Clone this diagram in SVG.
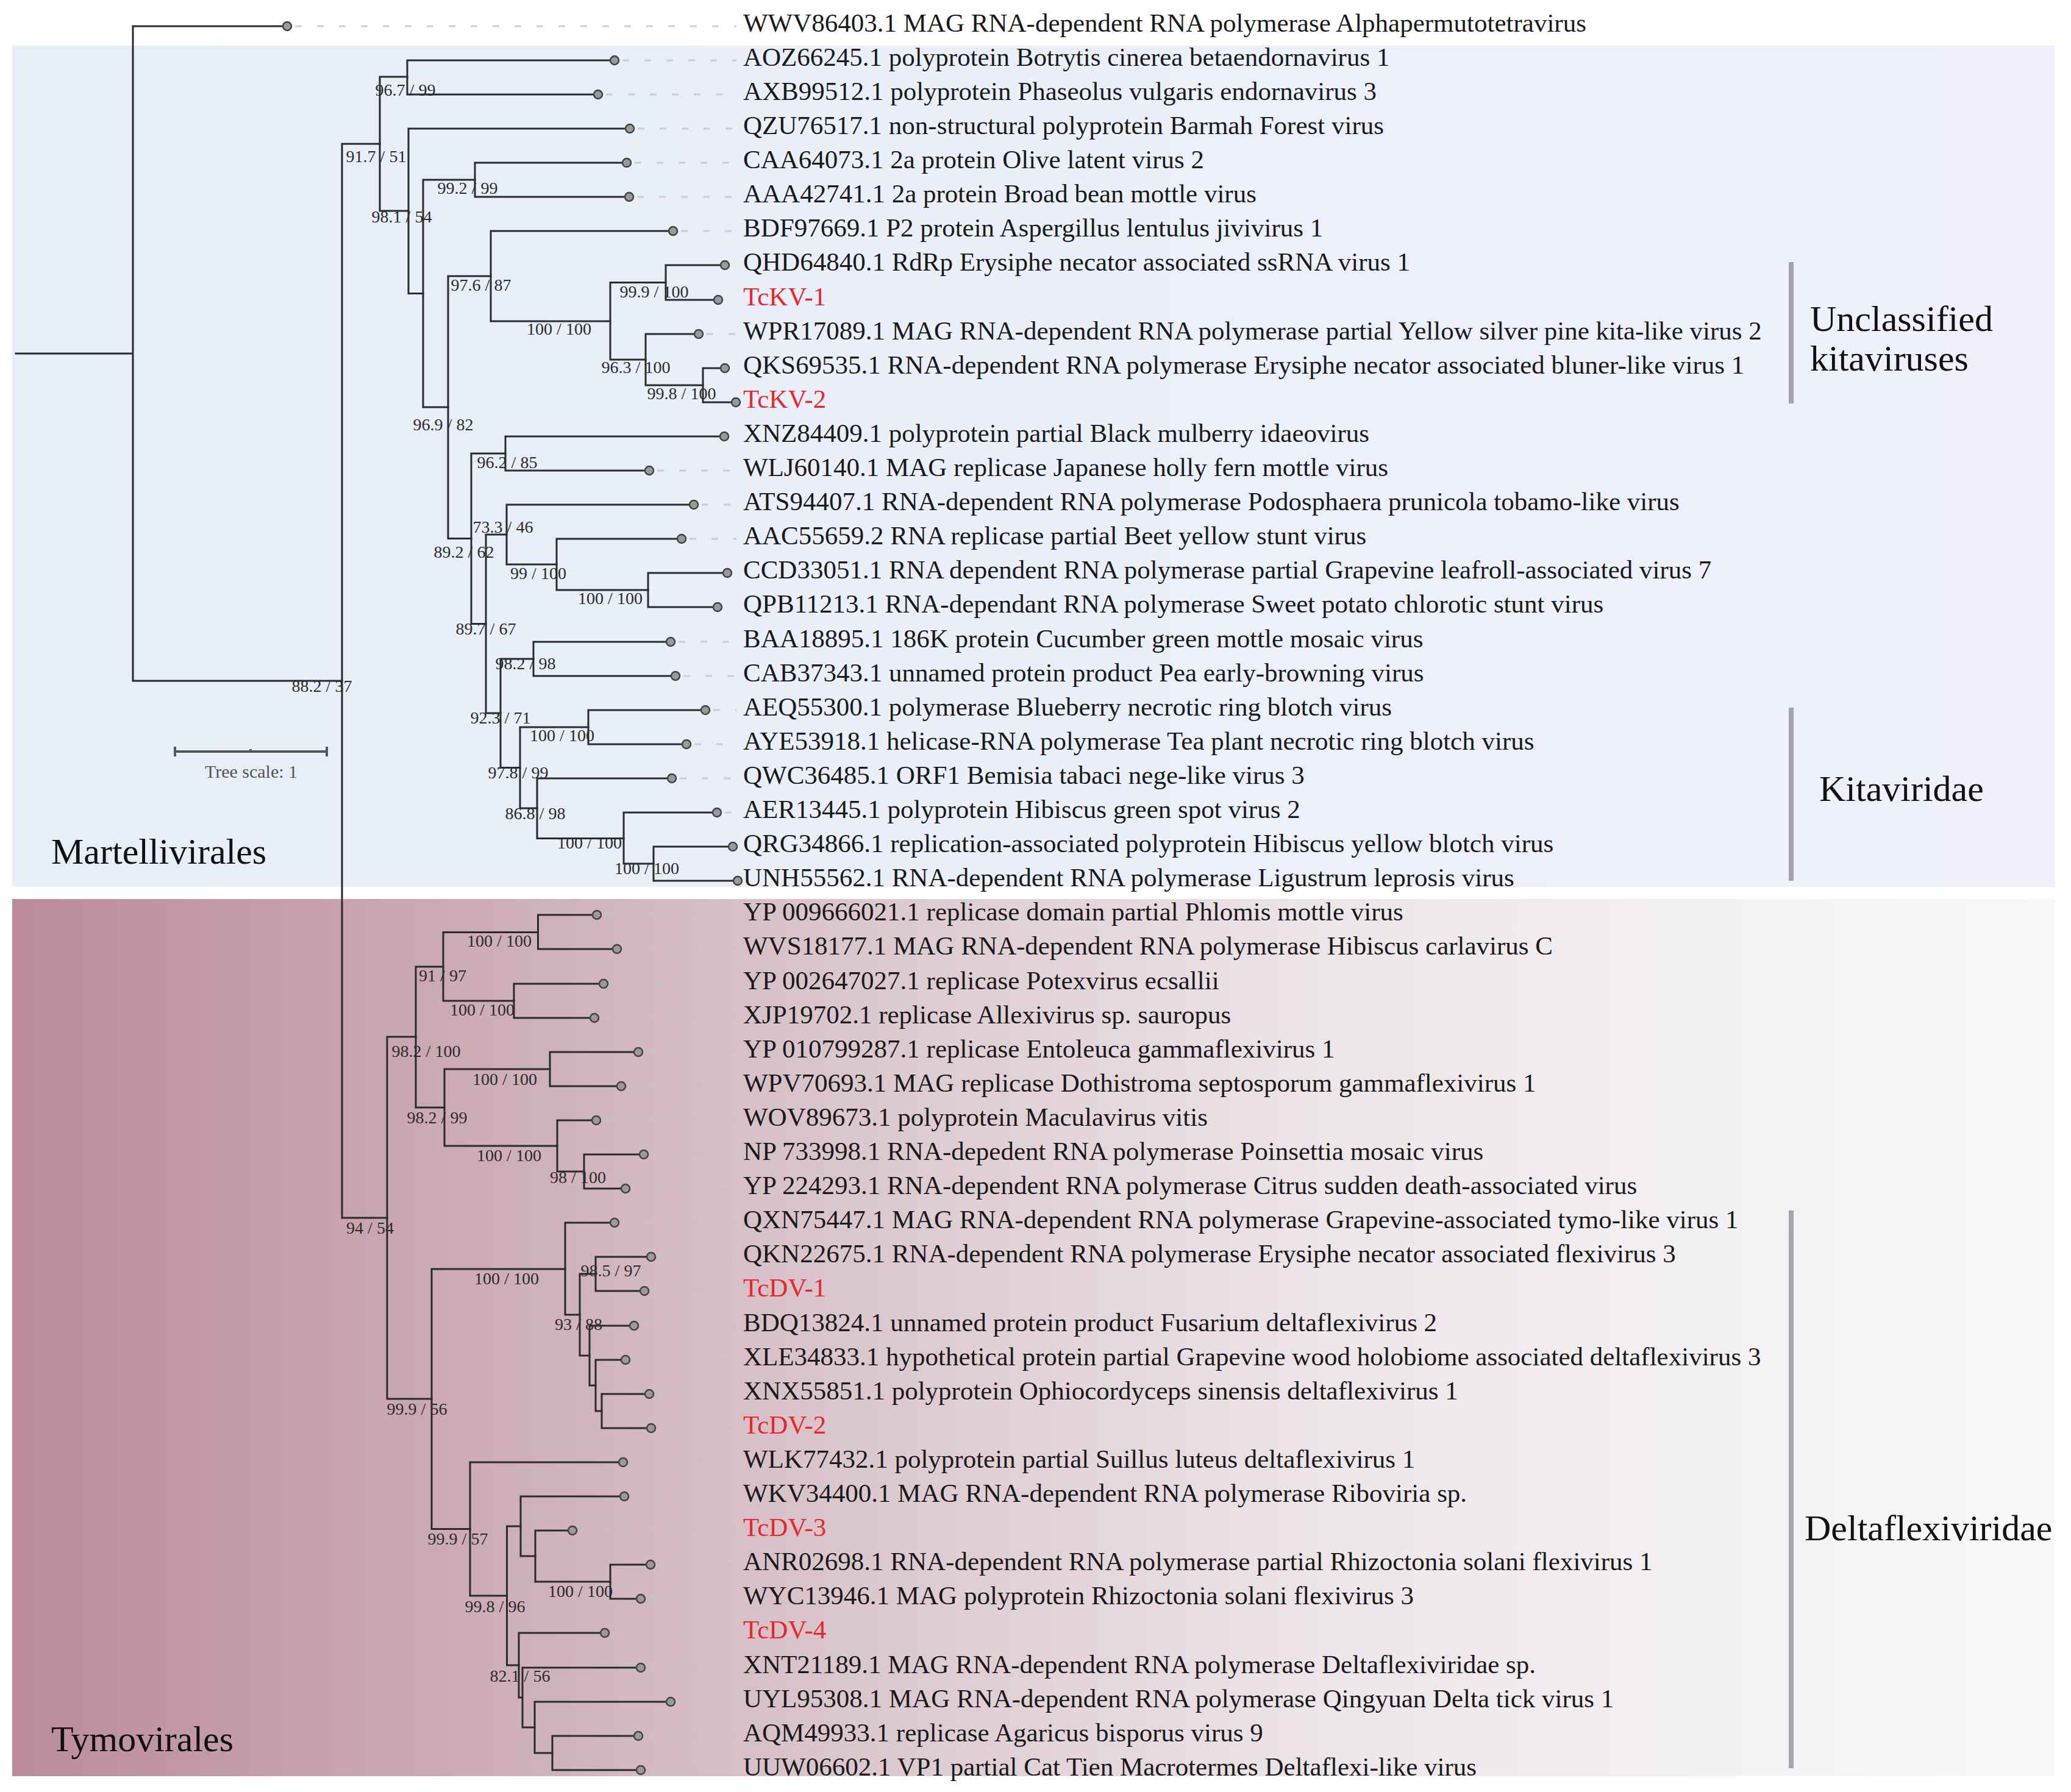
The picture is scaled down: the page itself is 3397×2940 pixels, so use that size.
<svg xmlns="http://www.w3.org/2000/svg" width="3397" height="2940" viewBox="0 0 3397 2940">
<defs>
<linearGradient id="gBlue" x1="0" y1="0" x2="1" y2="0">
<stop offset="0" stop-color="#e6eef7"/><stop offset="1" stop-color="#eff0fc"/>
</linearGradient>
<linearGradient id="gPink" x1="0" y1="0" x2="1" y2="0">
<stop offset="0" stop-color="#bb8b99"/><stop offset="0.35" stop-color="#d6bfc7"/><stop offset="0.65" stop-color="#ede6ea"/><stop offset="1" stop-color="#f8f9fb"/>
</linearGradient>
</defs>
<style>
.br{fill:none;stroke:#2b2b2b;stroke-width:3;stroke-linecap:square}
.tip{fill:#9a9a9a;stroke:#444;stroke-width:2.5}
.dash{stroke:#c4c4c8;stroke-width:3;stroke-dasharray:11 25;opacity:0.75}
.lb{font-family:"Liberation Serif","Times New Roman",serif;font-size:43px;fill:#1a1a1a}
.red{fill:#e8262b}
.sp{font-family:"Liberation Serif","Times New Roman",serif;font-size:28px;fill:#2b2b2b;text-anchor:middle}
.grp{font-family:"Liberation Serif","Times New Roman",serif;font-size:60px;fill:#111}
.bk{fill:#a4a4aa}
</style>
<rect width="3397" height="2940" fill="#ffffff"/>
<g id="bands">
<rect x="20" y="75" width="3351" height="1380" fill="url(#gBlue)"/>
<rect x="20" y="1475" width="3351" height="1439" fill="url(#gPink)"/>
</g>
<g id="group-labels">
<text class="grp" x="84" y="1417">Martellivirales</text>
<text class="grp" x="84" y="2873">Tymovirales</text>
<rect class="bk" x="2934" y="430" width="8" height="232"/>
<text class="grp" x="2969" y="543">Unclassified</text>
<text class="grp" x="2969" y="608">kitaviruses</text>
<rect class="bk" x="2934" y="1161" width="8" height="284"/>
<text class="grp" x="2984" y="1314">Kitaviridae</text>
<rect class="bk" x="2934" y="1986" width="8" height="915"/>
<text class="grp" x="2960" y="2527">Deltaflexiviridae</text>
</g>
<g id="tree-scale">
<path d="M287,1233 H536 M287,1225 V1241 M536,1225 V1241 M411,1229 V1233" stroke="#555" stroke-width="4" fill="none"/>
<text x="412" y="1276" font-family="Liberation Serif, serif" font-size="30" fill="#555" text-anchor="middle">Tree scale: 1</text>
</g>
<g id="connectors" class="br">
<path d="M26,580 H218 M218,43 V1117 M218,43 H471 M218,1117 H561"/>
<path d="M561,236 V1998 M561,236 H623 M561,1998 H635"/>
<path d="M623,126 V346 M623,126 H668 M623,346 H670"/>
<path d="M668,99 V155 M668,99 H1008 M668,155 H981"/>
<path d="M670,211 V481.5 M670,211 H1033 M670,481.5 H694"/>
<path d="M694,295 V668 M694,295 H779 M694,668 H735"/>
<path d="M779,267 V323 M779,267 H1028 M779,323 H1032"/>
<path d="M735,453 V883.5 M735,453 H805 M735,883.5 H773"/>
<path d="M805,379 V527 M805,379 H1104 M805,527 H1001"/>
<path d="M1001,463.5 V590 M1001,463.5 H1092 M1001,590 H1059"/>
<path d="M1092,435 V492 M1092,435 H1189 M1092,492 H1178"/>
<path d="M1059,548 V632 M1059,548 H1146 M1059,632 H1153"/>
<path d="M1153,604 V660 M1153,604 H1189 M1153,660 H1207"/>
<path d="M773,744 V1023.5 M773,744 H829 M773,1023.5 H797"/>
<path d="M829,716 V772 M829,716 H1188 M829,772 H1065"/>
<path d="M797,877 V1170 M797,877 H831 M797,1170 H821"/>
<path d="M831,828 V926 M831,828 H1138 M831,926 H913"/>
<path d="M913,884 V968 M913,884 H1118 M913,968 H1063"/>
<path d="M1063,940 V996 M1063,940 H1193 M1063,996 H1177"/>
<path d="M821,1081 V1259.5 M821,1081 H875 M821,1259.5 H853"/>
<path d="M875,1053 V1109 M875,1053 H1100 M875,1109 H1108"/>
<path d="M853,1193 V1326 M853,1193 H965 M853,1326 H881"/>
<path d="M965,1165 V1221 M965,1165 H1157 M965,1221 H1126"/>
<path d="M881,1277 V1375.5 M881,1277 H1102 M881,1375.5 H1023"/>
<path d="M1023,1333 V1417 M1023,1333 H1176 M1023,1417 H1072"/>
<path d="M1072,1389 V1445 M1072,1389 H1202 M1072,1445 H1210"/>
<path d="M635,1701 V2295 M635,1701 H682 M635,2295 H708"/>
<path d="M682,1586 V1817 M682,1586 H727 M682,1817 H729"/>
<path d="M727,1529.5 V1642 M727,1529.5 H882.5 M727,1642 H843"/>
<path d="M882.5,1501 V1557 M882.5,1501 H979 M882.5,1557 H1012"/>
<path d="M843,1614 V1670 M843,1614 H990 M843,1670 H975"/>
<path d="M729,1754 V1880 M729,1754 H902 M729,1880 H914"/>
<path d="M902,1726 V1782 M902,1726 H1047 M902,1782 H1019"/>
<path d="M914,1838 V1922 M914,1838 H978 M914,1922 H958"/>
<path d="M958,1894 V1950 M958,1894 H1056 M958,1950 H1026"/>
<path d="M708,2082 V2508.5 M708,2082 H927 M708,2508.5 H771"/>
<path d="M927,2006 V2157 M927,2006 H1008 M927,2157 H951"/>
<path d="M951,2090 V2224 M951,2090 H977 M951,2224 H967"/>
<path d="M977,2062 V2118 M977,2062 H1068 M977,2118 H1057"/>
<path d="M967,2175 V2273 M967,2175 H1040 M967,2273 H977"/>
<path d="M977,2231 V2315 M977,2231 H1026 M977,2315 H987"/>
<path d="M987,2287 V2343 M987,2287 H1065 M987,2343 H1068"/>
<path d="M771,2399 V2618 M771,2399 H1022 M771,2618 H831.5"/>
<path d="M831.5,2504 V2732 M831.5,2504 H854 M831.5,2732 H851"/>
<path d="M854,2455 V2553 M854,2455 H1024 M854,2553 H878"/>
<path d="M878,2511 V2595 M878,2511 H939 M878,2595 H1001"/>
<path d="M1001,2567 V2623 M1001,2567 H1067 M1001,2623 H1051"/>
<path d="M851,2679 V2785 M851,2679 H992 M851,2785 H857"/>
<path d="M857,2736 V2834 M857,2736 H1051 M857,2834 H877"/>
<path d="M877,2792 V2876 M877,2792 H1100 M877,2876 H906"/>
<path d="M906,2848 V2904 M906,2848 H1047 M906,2904 H1051"/>
</g>
<g id="support-values">
<text class="sp" x="528" y="1135">88.2 / 37</text>
<text class="sp" x="617" y="266">91.7 / 51</text>
<text class="sp" x="665" y="157">96.7 / 99</text>
<text class="sp" x="659" y="365">98.1 / 54</text>
<text class="sp" x="767" y="318">99.2 / 99</text>
<text class="sp" x="789" y="477">97.6 / 87</text>
<text class="sp" x="917" y="549">100 / 100</text>
<text class="sp" x="1073" y="488">99.9 / 100</text>
<text class="sp" x="1043" y="612">96.3 / 100</text>
<text class="sp" x="1118" y="655">99.8 / 100</text>
<text class="sp" x="727" y="706">96.9 / 82</text>
<text class="sp" x="832" y="768">96.2 / 85</text>
<text class="sp" x="825" y="874">73.3 / 46</text>
<text class="sp" x="761" y="915">89.2 / 62</text>
<text class="sp" x="883" y="950">99 / 100</text>
<text class="sp" x="1001" y="991">100 / 100</text>
<text class="sp" x="797" y="1041">89.7 / 67</text>
<text class="sp" x="862" y="1098">98.2 / 98</text>
<text class="sp" x="821" y="1187">92.3 / 71</text>
<text class="sp" x="922" y="1216">100 / 100</text>
<text class="sp" x="850" y="1277">97.8 / 99</text>
<text class="sp" x="878" y="1344">86.8 / 98</text>
<text class="sp" x="967" y="1392">100 / 100</text>
<text class="sp" x="1061" y="1434">100 / 100</text>
<text class="sp" x="819" y="1553">100 / 100</text>
<text class="sp" x="726" y="1610">91 / 97</text>
<text class="sp" x="791" y="1666">100 / 100</text>
<text class="sp" x="699" y="1734">98.2 / 100</text>
<text class="sp" x="828" y="1780">100 / 100</text>
<text class="sp" x="717" y="1843">98.2 / 99</text>
<text class="sp" x="835" y="1905">100 / 100</text>
<text class="sp" x="948" y="1941">98 / 100</text>
<text class="sp" x="607" y="2024">94 / 54</text>
<text class="sp" x="1002" y="2094">98.5 / 97</text>
<text class="sp" x="831" y="2107">100 / 100</text>
<text class="sp" x="949" y="2182">93 / 88</text>
<text class="sp" x="684" y="2321">99.9 / 56</text>
<text class="sp" x="751" y="2534">99.9 / 57</text>
<text class="sp" x="952" y="2620">100 / 100</text>
<text class="sp" x="812" y="2645">99.8 / 96</text>
<text class="sp" x="853" y="2759">82.1 / 56</text>
</g>
<g id="leaves">
<g id="leaf-WWV86403"><line class="dash" x1="484" y1="43" x2="1208" y2="43"/><circle class="tip" cx="471" cy="43" r="7"/><text class="lb" x="1219" y="52">WWV86403.1 MAG RNA-dependent RNA polymerase Alphapermutotetravirus</text></g>
<g id="leaf-AOZ66245"><line class="dash" x1="1021" y1="99" x2="1208" y2="99"/><circle class="tip" cx="1008" cy="99" r="7"/><text class="lb" x="1219" y="108">AOZ66245.1 polyprotein Botrytis cinerea betaendornavirus 1</text></g>
<g id="leaf-AXB99512"><line class="dash" x1="994" y1="155" x2="1208" y2="155"/><circle class="tip" cx="981" cy="155" r="7"/><text class="lb" x="1219" y="164">AXB99512.1 polyprotein Phaseolus vulgaris endornavirus 3</text></g>
<g id="leaf-QZU76517"><line class="dash" x1="1046" y1="211" x2="1208" y2="211"/><circle class="tip" cx="1033" cy="211" r="7"/><text class="lb" x="1219" y="220">QZU76517.1 non-structural polyprotein Barmah Forest virus</text></g>
<g id="leaf-CAA64073"><line class="dash" x1="1041" y1="267" x2="1208" y2="267"/><circle class="tip" cx="1028" cy="267" r="7"/><text class="lb" x="1219" y="276">CAA64073.1 2a protein Olive latent virus 2</text></g>
<g id="leaf-AAA42741"><line class="dash" x1="1045" y1="323" x2="1208" y2="323"/><circle class="tip" cx="1032" cy="323" r="7"/><text class="lb" x="1219" y="332">AAA42741.1 2a protein Broad bean mottle virus</text></g>
<g id="leaf-BDF97669"><line class="dash" x1="1117" y1="379" x2="1208" y2="379"/><circle class="tip" cx="1104" cy="379" r="7"/><text class="lb" x="1219" y="388">BDF97669.1 P2 protein Aspergillus lentulus jivivirus 1</text></g>
<g id="leaf-QHD64840"><circle class="tip" cx="1189" cy="435" r="7"/><text class="lb" x="1219" y="444">QHD64840.1 RdRp Erysiphe necator associated ssRNA virus 1</text></g>
<g id="leaf-TcKV-1"><circle class="tip" cx="1178" cy="492" r="7"/><text class="lb red" x="1219" y="501">TcKV-1</text></g>
<g id="leaf-WPR17089"><line class="dash" x1="1159" y1="548" x2="1208" y2="548"/><circle class="tip" cx="1146" cy="548" r="7"/><text class="lb" x="1219" y="557">WPR17089.1 MAG RNA-dependent RNA polymerase partial Yellow silver pine kita-like virus 2</text></g>
<g id="leaf-QKS69535"><circle class="tip" cx="1189" cy="604" r="7"/><text class="lb" x="1219" y="613">QKS69535.1 RNA-dependent RNA polymerase Erysiphe necator associated bluner-like virus 1</text></g>
<g id="leaf-TcKV-2"><circle class="tip" cx="1207" cy="660" r="7"/><text class="lb red" x="1219" y="669">TcKV-2</text></g>
<g id="leaf-XNZ84409"><circle class="tip" cx="1188" cy="716" r="7"/><text class="lb" x="1219" y="725">XNZ84409.1 polyprotein partial Black mulberry idaeovirus</text></g>
<g id="leaf-WLJ60140"><line class="dash" x1="1078" y1="772" x2="1208" y2="772"/><circle class="tip" cx="1065" cy="772" r="7"/><text class="lb" x="1219" y="781">WLJ60140.1 MAG replicase Japanese holly fern mottle virus</text></g>
<g id="leaf-ATS94407"><line class="dash" x1="1151" y1="828" x2="1208" y2="828"/><circle class="tip" cx="1138" cy="828" r="7"/><text class="lb" x="1219" y="837">ATS94407.1 RNA-dependent RNA polymerase Podosphaera prunicola tobamo-like virus</text></g>
<g id="leaf-AAC55659"><line class="dash" x1="1131" y1="884" x2="1208" y2="884"/><circle class="tip" cx="1118" cy="884" r="7"/><text class="lb" x="1219" y="893">AAC55659.2 RNA replicase partial Beet yellow stunt virus</text></g>
<g id="leaf-CCD33051"><circle class="tip" cx="1193" cy="940" r="7"/><text class="lb" x="1219" y="949">CCD33051.1 RNA dependent RNA polymerase partial Grapevine leafroll-associated virus 7</text></g>
<g id="leaf-QPB11213"><circle class="tip" cx="1177" cy="996" r="7"/><text class="lb" x="1219" y="1005">QPB11213.1 RNA-dependant RNA polymerase Sweet potato chlorotic stunt virus</text></g>
<g id="leaf-BAA18895"><line class="dash" x1="1113" y1="1053" x2="1208" y2="1053"/><circle class="tip" cx="1100" cy="1053" r="7"/><text class="lb" x="1219" y="1062">BAA18895.1 186K protein Cucumber green mottle mosaic virus</text></g>
<g id="leaf-CAB37343"><line class="dash" x1="1121" y1="1109" x2="1208" y2="1109"/><circle class="tip" cx="1108" cy="1109" r="7"/><text class="lb" x="1219" y="1118">CAB37343.1 unnamed protein product Pea early-browning virus</text></g>
<g id="leaf-AEQ55300"><line class="dash" x1="1170" y1="1165" x2="1208" y2="1165"/><circle class="tip" cx="1157" cy="1165" r="7"/><text class="lb" x="1219" y="1174">AEQ55300.1 polymerase Blueberry necrotic ring blotch virus</text></g>
<g id="leaf-AYE53918"><line class="dash" x1="1139" y1="1221" x2="1208" y2="1221"/><circle class="tip" cx="1126" cy="1221" r="7"/><text class="lb" x="1219" y="1230">AYE53918.1 helicase-RNA polymerase Tea plant necrotic ring blotch virus</text></g>
<g id="leaf-QWC36485"><line class="dash" x1="1115" y1="1277" x2="1208" y2="1277"/><circle class="tip" cx="1102" cy="1277" r="7"/><text class="lb" x="1219" y="1286">QWC36485.1 ORF1 Bemisia tabaci nege-like virus 3</text></g>
<g id="leaf-AER13445"><line class="dash" x1="1189" y1="1333" x2="1208" y2="1333"/><circle class="tip" cx="1176" cy="1333" r="7"/><text class="lb" x="1219" y="1342">AER13445.1 polyprotein Hibiscus green spot virus 2</text></g>
<g id="leaf-QRG34866"><circle class="tip" cx="1202" cy="1389" r="7"/><text class="lb" x="1219" y="1398">QRG34866.1 replication-associated polyprotein Hibiscus yellow blotch virus</text></g>
<g id="leaf-UNH55562"><circle class="tip" cx="1210" cy="1445" r="7"/><text class="lb" x="1219" y="1454">UNH55562.1 RNA-dependent RNA polymerase Ligustrum leprosis virus</text></g>
<g id="leaf-YP009666021"><line class="dash" x1="992" y1="1501" x2="1208" y2="1501"/><circle class="tip" cx="979" cy="1501" r="7"/><text class="lb" x="1219" y="1510">YP 009666021.1 replicase domain partial Phlomis mottle virus</text></g>
<g id="leaf-WVS18177"><line class="dash" x1="1025" y1="1557" x2="1208" y2="1557"/><circle class="tip" cx="1012" cy="1557" r="7"/><text class="lb" x="1219" y="1566">WVS18177.1 MAG RNA-dependent RNA polymerase Hibiscus carlavirus C</text></g>
<g id="leaf-YP002647027"><line class="dash" x1="1003" y1="1614" x2="1208" y2="1614"/><circle class="tip" cx="990" cy="1614" r="7"/><text class="lb" x="1219" y="1623">YP 002647027.1 replicase Potexvirus ecsallii</text></g>
<g id="leaf-XJP19702"><line class="dash" x1="988" y1="1670" x2="1208" y2="1670"/><circle class="tip" cx="975" cy="1670" r="7"/><text class="lb" x="1219" y="1679">XJP19702.1 replicase Allexivirus sp. sauropus</text></g>
<g id="leaf-YP010799287"><line class="dash" x1="1060" y1="1726" x2="1208" y2="1726"/><circle class="tip" cx="1047" cy="1726" r="7"/><text class="lb" x="1219" y="1735">YP 010799287.1 replicase Entoleuca gammaflexivirus 1</text></g>
<g id="leaf-WPV70693"><line class="dash" x1="1032" y1="1782" x2="1208" y2="1782"/><circle class="tip" cx="1019" cy="1782" r="7"/><text class="lb" x="1219" y="1791">WPV70693.1 MAG replicase Dothistroma septosporum gammaflexivirus 1</text></g>
<g id="leaf-WOV89673"><line class="dash" x1="991" y1="1838" x2="1208" y2="1838"/><circle class="tip" cx="978" cy="1838" r="7"/><text class="lb" x="1219" y="1847">WOV89673.1 polyprotein Maculavirus vitis</text></g>
<g id="leaf-NP733998"><line class="dash" x1="1069" y1="1894" x2="1208" y2="1894"/><circle class="tip" cx="1056" cy="1894" r="7"/><text class="lb" x="1219" y="1903">NP 733998.1 RNA-depedent RNA polymerase Poinsettia mosaic virus</text></g>
<g id="leaf-YP224293"><line class="dash" x1="1039" y1="1950" x2="1208" y2="1950"/><circle class="tip" cx="1026" cy="1950" r="7"/><text class="lb" x="1219" y="1959">YP 224293.1 RNA-dependent RNA polymerase Citrus sudden death-associated virus</text></g>
<g id="leaf-QXN75447"><line class="dash" x1="1021" y1="2006" x2="1208" y2="2006"/><circle class="tip" cx="1008" cy="2006" r="7"/><text class="lb" x="1219" y="2015">QXN75447.1 MAG RNA-dependent RNA polymerase Grapevine-associated tymo-like virus 1</text></g>
<g id="leaf-QKN22675"><line class="dash" x1="1081" y1="2062" x2="1208" y2="2062"/><circle class="tip" cx="1068" cy="2062" r="7"/><text class="lb" x="1219" y="2071">QKN22675.1 RNA-dependent RNA polymerase Erysiphe necator associated flexivirus 3</text></g>
<g id="leaf-TcDV-1"><line class="dash" x1="1070" y1="2118" x2="1208" y2="2118"/><circle class="tip" cx="1057" cy="2118" r="7"/><text class="lb red" x="1219" y="2127">TcDV-1</text></g>
<g id="leaf-BDQ13824"><line class="dash" x1="1053" y1="2175" x2="1208" y2="2175"/><circle class="tip" cx="1040" cy="2175" r="7"/><text class="lb" x="1219" y="2184">BDQ13824.1 unnamed protein product Fusarium deltaflexivirus 2</text></g>
<g id="leaf-XLE34833"><line class="dash" x1="1039" y1="2231" x2="1208" y2="2231"/><circle class="tip" cx="1026" cy="2231" r="7"/><text class="lb" x="1219" y="2240">XLE34833.1 hypothetical protein partial Grapevine wood holobiome associated deltaflexivirus 3</text></g>
<g id="leaf-XNX55851"><line class="dash" x1="1078" y1="2287" x2="1208" y2="2287"/><circle class="tip" cx="1065" cy="2287" r="7"/><text class="lb" x="1219" y="2296">XNX55851.1 polyprotein Ophiocordyceps sinensis deltaflexivirus 1</text></g>
<g id="leaf-TcDV-2"><line class="dash" x1="1081" y1="2343" x2="1208" y2="2343"/><circle class="tip" cx="1068" cy="2343" r="7"/><text class="lb red" x="1219" y="2352">TcDV-2</text></g>
<g id="leaf-WLK77432"><line class="dash" x1="1035" y1="2399" x2="1208" y2="2399"/><circle class="tip" cx="1022" cy="2399" r="7"/><text class="lb" x="1219" y="2408">WLK77432.1 polyprotein partial Suillus luteus deltaflexivirus 1</text></g>
<g id="leaf-WKV34400"><line class="dash" x1="1037" y1="2455" x2="1208" y2="2455"/><circle class="tip" cx="1024" cy="2455" r="7"/><text class="lb" x="1219" y="2464">WKV34400.1 MAG RNA-dependent RNA polymerase Riboviria sp.</text></g>
<g id="leaf-TcDV-3"><line class="dash" x1="952" y1="2511" x2="1208" y2="2511"/><circle class="tip" cx="939" cy="2511" r="7"/><text class="lb red" x="1219" y="2520">TcDV-3</text></g>
<g id="leaf-ANR02698"><line class="dash" x1="1080" y1="2567" x2="1208" y2="2567"/><circle class="tip" cx="1067" cy="2567" r="7"/><text class="lb" x="1219" y="2576">ANR02698.1 RNA-dependent RNA polymerase partial Rhizoctonia solani flexivirus 1</text></g>
<g id="leaf-WYC13946"><line class="dash" x1="1064" y1="2623" x2="1208" y2="2623"/><circle class="tip" cx="1051" cy="2623" r="7"/><text class="lb" x="1219" y="2632">WYC13946.1 MAG polyprotein Rhizoctonia solani flexivirus 3</text></g>
<g id="leaf-TcDV-4"><line class="dash" x1="1005" y1="2679" x2="1208" y2="2679"/><circle class="tip" cx="992" cy="2679" r="7"/><text class="lb red" x="1219" y="2688">TcDV-4</text></g>
<g id="leaf-XNT21189"><line class="dash" x1="1064" y1="2736" x2="1208" y2="2736"/><circle class="tip" cx="1051" cy="2736" r="7"/><text class="lb" x="1219" y="2745">XNT21189.1 MAG RNA-dependent RNA polymerase Deltaflexiviridae sp.</text></g>
<g id="leaf-UYL95308"><line class="dash" x1="1113" y1="2792" x2="1208" y2="2792"/><circle class="tip" cx="1100" cy="2792" r="7"/><text class="lb" x="1219" y="2801">UYL95308.1 MAG RNA-dependent RNA polymerase Qingyuan Delta tick virus 1</text></g>
<g id="leaf-AQM49933"><line class="dash" x1="1060" y1="2848" x2="1208" y2="2848"/><circle class="tip" cx="1047" cy="2848" r="7"/><text class="lb" x="1219" y="2857">AQM49933.1 replicase Agaricus bisporus virus 9</text></g>
<g id="leaf-UUW06602"><line class="dash" x1="1064" y1="2904" x2="1208" y2="2904"/><circle class="tip" cx="1051" cy="2904" r="7"/><text class="lb" x="1219" y="2913">UUW06602.1 VP1 partial Cat Tien Macrotermes Deltaflexi-like virus</text></g>
</g>
</svg>
